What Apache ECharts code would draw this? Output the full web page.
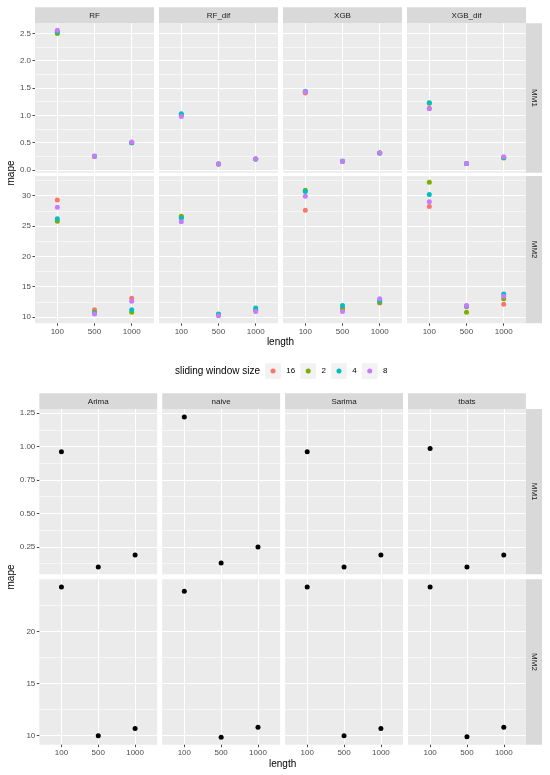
<!DOCTYPE html>
<html><head><meta charset="utf-8">
<script src="https://cdn.jsdelivr.net/npm/echarts@6.0.0/dist/echarts.min.js"></script>
<style>html,body{margin:0;padding:0;background:#fff}#c{width:550px;height:775px}</style>
</head><body><div id="c"></div>
<script>
const lengths = ['100','500','1000'];
const mlModels = ['RF','RF_dif','XGB','XGB_dif'];
const baseModels = ['Arima','naive','Sarima','tbats'];
const rowNames = ['MM1','MM2'];
const windowSizes = ['16','2','4','8'];
const windowColors = ['#F8766D','#7CAE00','#00BFC4','#C77CFF'];

// MAPE at length 100 / 500 / 1000; one row per sliding window size 16, 2, 4, 8
const rf_mm1     = [[2.52,0.25,0.50],[2.50,0.25,0.50],[2.53,0.25,0.50],[2.56,0.25,0.51]];
const rfdif_mm1  = [[1.00,0.11,0.20],[1.01,0.11,0.20],[1.03,0.11,0.20],[0.98,0.11,0.20]];
const xgb_mm1    = [[1.41,0.16,0.31],[1.43,0.16,0.31],[1.44,0.16,0.31],[1.43,0.16,0.31]];
const xgbdif_mm1 = [[1.13,0.12,0.23],[1.22,0.12,0.22],[1.23,0.12,0.23],[1.12,0.12,0.24]];
const rf_mm2     = [[29.3,11.2,13.1],[25.8,10.8,10.8],[26.2,10.6,11.2],[28.1,10.5,12.6]];
const rfdif_mm2  = [[26.5,10.4,11.1],[26.6,10.4,11.2],[26.3,10.5,11.5],[25.7,10.2,10.9]];
const xgb_mm2    = [[27.6,11.2,12.3],[30.9,11.5,12.4],[30.7,11.9,12.7],[29.9,10.9,13.0]];
const xgbdif_mm2 = [[28.2,11.7,12.1],[32.2,10.8,13.0],[30.2,11.8,13.8],[29.0,11.9,13.4]];

// Baseline models, MAPE at length 100 / 500 / 1000
const arima_mm1  = [0.96,0.10,0.19];
const naive_mm1  = [1.22,0.13,0.25];
const sarima_mm1 = [0.96,0.10,0.19];
const tbats_mm1  = [0.985,0.10,0.19];
const arima_mm2  = [24.3,10.0,10.7];
const naive_mm2  = [23.9,9.85,10.8];
const sarima_mm2 = [24.3,10.0,10.7];
const tbats_mm2  = [24.3,9.9,10.8];

// Tick values
const mlMM1Ticks   = [0,0.5,1,1.5,2,2.5];
const mlMM1Minor   = [0.25,0.75,1.25,1.75,2.25];
const mlMM2Ticks   = [10,15,20,25,30];
const mlMM2Minor   = [12.5,17.5,22.5,27.5,32.5];
const baseMM1Ticks = [0.25,0.5,0.75,1,1.25];
const baseMM1Minor = [0.125,0.375,0.625,0.875,1.125];
const baseMM2Ticks = [10,15,20];
const baseMM2Minor = [12.5,17.5,22.5];

const FONT = '"Liberation Sans", Arial, Helvetica, sans-serif';

const option = {
  animation: false,
  backgroundColor: '#ffffff',
  textStyle: { fontFamily: FONT },
  grid: [], xAxis: [], yAxis: [], series: [], graphic: [], legend: []
};

function addPanel(p) {
  const g = option.grid.length;
  option.grid.push({ left: p.left, top: p.top, width: p.width, height: p.height,
    show: true, backgroundColor: '#EBEBEB', borderWidth: 0, outerBoundsMode: 'none', containLabel: false });
  option.xAxis.push({ type: 'value', gridIndex: g, min: 0.4, max: 3.6,
    axisLine: { show: false },
    axisTick: { show: p.showX, length: 2.5, lineStyle: { color: '#333333', width: 0.9 }, customValues: [1,2,3] },
    axisLabel: { show: p.showX, customValues: [1,2,3], formatter: v => lengths[Math.round(v) - 1],
      color: '#4D4D4D', fontSize: 8, margin: 4, fontFamily: FONT },
    splitLine: { show: true, lineStyle: { color: '#FFFFFF', width: 1.1 } } });
  option.yAxis.push({ type: 'value', gridIndex: g, min: p.yMin, max: p.yMax, position: 'left',
    axisLine: { show: false }, axisTick: { show: false, customValues: p.minor },
    axisLabel: { show: false, customValues: p.minor },
    splitLine: { show: true, lineStyle: { color: '#FFFFFF', width: 0.55 } } });
  const yIdx = option.yAxis.length;
  option.yAxis.push({ type: 'value', gridIndex: g, min: p.yMin, max: p.yMax, position: 'left',
    axisLine: { show: false },
    axisTick: { show: p.showY, length: 2.5, lineStyle: { color: '#333333', width: 0.9 }, customValues: p.major },
    axisLabel: { show: p.showY, customValues: p.major, formatter: v => v.toFixed(p.dec),
      color: '#4D4D4D', fontSize: 8, margin: 4, fontFamily: FONT },
    splitLine: { show: true, lineStyle: { color: '#FFFFFF', width: 1.1 } } });
  p.series.forEach(s => {
    option.series.push({ type: 'scatter', name: s.name, xAxisIndex: g, yAxisIndex: yIdx,
      symbolSize: 5, itemStyle: { color: s.color, opacity: 1 },
      data: s.values.map((v, j) => [j + 1, v]) });
  });
}

function stripRect(x, y, w, h) {
  option.graphic.push({ type: 'rect', shape: { x, y, width: w, height: h }, style: { fill: '#D9D9D9' }, silent: true });
}
function label(text, x, y, size, fill, rot) {
  option.graphic.push({ type: 'text', x, y, rotation: rot || 0, silent: true,
    style: { text, fontSize: size, fill, align: 'center', verticalAlign: 'middle', fontFamily: FONT } });
}

// ---------- top block: ML models ----------
const topCols = [35, 159, 283, 407], topW = 119;
const topRowsY = [23.3, 176], topRowsH = [149.4, 147.3];
const mlData = [[rf_mm1, rfdif_mm1, xgb_mm1, xgbdif_mm1], [rf_mm2, rfdif_mm2, xgb_mm2, xgbdif_mm2]];
const topScales = [
  { yMin: -0.05, yMax: 2.685, major: mlMM1Ticks, minor: mlMM1Minor, dec: 1 },
  { yMin: 8.96, yMax: 33.25, major: mlMM2Ticks, minor: mlMM2Minor, dec: 0 }
];
for (let r = 0; r < 2; r++) {
  for (let c = 0; c < 4; c++) {
    const arr = mlData[r][c];
    addPanel(Object.assign({ left: topCols[c], top: topRowsY[r], width: topW, height: topRowsH[r],
      showY: c === 0, showX: r === 1,
      series: windowSizes.map((w, i) => ({ name: w, color: windowColors[i], values: arr[i] })) }, topScales[r]));
  }
}
mlModels.forEach((m, c) => { stripRect(topCols[c], 7.3, topW, 16); label(m, topCols[c] + topW / 2, 15.6, 8, '#1A1A1A'); });
rowNames.forEach((n, r) => { stripRect(526, topRowsY[r], 16, topRowsH[r]); label(n, 534, topRowsY[r] + topRowsH[r] / 2, 8, '#1A1A1A', -Math.PI / 2); });
label('mape', 11, 173, 10, '#000000', Math.PI / 2);
label('length', 280.5, 342, 10, '#000000');

// ---------- bottom block: baseline models ----------
const botCols = [39.3, 162.2, 285.1, 408], botW = 117.9;
const botRowsY = [409, 579.3], botRowsH = [165.3, 165.4];
const baseData = [[arima_mm1, naive_mm1, sarima_mm1, tbats_mm1], [arima_mm2, naive_mm2, sarima_mm2, tbats_mm2]];
const botScales = [
  { yMin: 0.046, yMax: 1.28, major: baseMM1Ticks, minor: baseMM1Minor, dec: 2 },
  { yMin: 9.13, yMax: 25.04, major: baseMM2Ticks, minor: baseMM2Minor, dec: 0 }
];
for (let r = 0; r < 2; r++) {
  for (let c = 0; c < 4; c++) {
    addPanel(Object.assign({ left: botCols[c], top: botRowsY[r], width: botW, height: botRowsH[r],
      showY: c === 0, showX: r === 1,
      series: [{ name: baseModels[c], color: '#000000', values: baseData[r][c] }] }, botScales[r]));
  }
}
baseModels.forEach((m, c) => { stripRect(botCols[c], 393.3, botW, 15.7); label(m, botCols[c] + botW / 2, 401.4, 8, '#1A1A1A'); });
rowNames.forEach((n, r) => { stripRect(526, botRowsY[r], 16, botRowsH[r]); label(n, 534, botRowsY[r] + botRowsH[r] / 2, 8, '#1A1A1A', -Math.PI / 2); });
label('mape', 11, 577, 10, '#000000', Math.PI / 2);
label('length', 282.6, 764, 10, '#000000');

// ---------- legend (one legend component per key, each centred in its grey key box) ----------
const legLeft = 265.2, legTop = 363.2, keyW = 15.7, gapPx = 5.3, dot = 5;
const ctx = document.createElement('canvas').getContext('2d');
ctx.font = '8px ' + FONT;
let kx = legLeft;
windowSizes.forEach((w, i) => {
  const cx = kx + keyW / 2;
  option.graphic.push({ type: 'rect', shape: { x: kx, y: legTop, width: keyW, height: keyW }, style: { fill: '#F2F2F2' }, silent: true });
  option.legend.push({ data: [w], left: cx - dot / 2, top: legTop, padding: 0, orient: 'horizontal',
    itemWidth: dot, itemHeight: dot, itemGap: 0, icon: 'circle', selectedMode: false, z: 10,
    textStyle: { fontSize: 8, color: '#000000', lineHeight: keyW, height: keyW, fontFamily: FONT,
      padding: [0, 0, 0, keyW / 2 - dot / 2 + gapPx - 5] } });
  kx += keyW + gapPx + ctx.measureText(w).width + gapPx;
});
option.graphic.push({ type: 'text', x: 260, y: legTop + keyW / 2, silent: true,
  style: { text: 'sliding window size', fontSize: 10, fill: '#000000', align: 'right', verticalAlign: 'middle', fontFamily: FONT } });

const chart = echarts.init(document.getElementById('c'), null, { renderer: 'canvas' });
chart.setOption(option);
</script></body></html>
